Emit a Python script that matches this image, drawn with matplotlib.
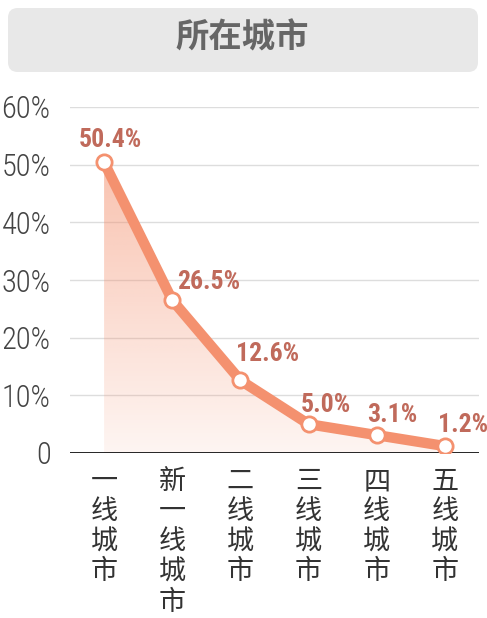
import matplotlib
matplotlib.use("Agg")
import matplotlib.pyplot as plt
import numpy as np
from matplotlib import font_manager as fm
from matplotlib.patches import FancyBboxPatch, Polygon
from matplotlib.colors import to_rgb

categories = ["一线城市", "新一线城市", "二线城市", "三线城市", "四线城市", "五线城市"]
values = [50.4, 26.5, 12.6, 5.0, 3.1, 1.2]
value_labels = ["50.4%", "26.5%", "12.6%", "5.0%", "3.1%", "1.2%"]
yticks = [0, 10, 20, 30, 40, 50, 60]
ytick_labels = ["0", "10%", "20%", "30%", "40%", "50%", "60%"]
title = "所在城市"

names = {f.name for f in fm.fontManager.ttflist}
def pick(cands):
    for c in cands:
        if c in names:
            return c
    return "DejaVu Sans"
num_font = pick(["Roboto Condensed", "Liberation Sans Narrow", "Open Sans", "Roboto"])
cjk = "Noto Sans CJK SC"

LINE = "#F4916F"
LABEL = "#C06A5B"

fig = plt.figure(figsize=(4.87, 6.18), dpi=100)
W, H = 487, 618
ax = fig.add_axes([70 / W, (H - 453) / H, (479 - 70) / W, (453 - 107) / H])

x = np.arange(len(categories))
ax.set_xlim(-0.5, 5.5)
ax.set_ylim(0, 60)

# gradient fill
verts = [(x[0], 0)] + list(zip(x, values)) + [(x[-1], 0)]
poly = Polygon(verts, closed=True, facecolor="none", edgecolor="none")
ax.add_patch(poly)
r, g, b = to_rgb(LINE)
n = 256
alpha = np.linspace(0.09, 0.55, n).reshape(n, 1)
img = np.zeros((n, 1, 4))
img[..., 0], img[..., 1], img[..., 2] = r, g, b
img[..., 3] = alpha
im = ax.imshow(img, extent=[x[0], x[-1], 0, max(values)], origin="lower",
               aspect="auto", zorder=1)
im.set_clip_path(poly)

for yv in yticks[1:]:
    ax.axhline(yv, color="#DDDDDD", lw=1, zorder=0)
ax.axhline(0, color="#111111", lw=2, zorder=3)

ax.plot(x, values, color=LINE, lw=7.5, solid_capstyle="round", zorder=4,
        marker="o", markersize=11, markerfacecolor="white",
        markeredgecolor=LINE, markeredgewidth=2)

# label offsets in pixels (dx, gap above point to baseline)
offsets = [(6, 15), (36, 11), (27, 19), (17, 12), (16, 13), (18, 14)]
for xi, v, lab, (dx, dy) in zip(x, values, value_labels, offsets):
    ax.annotate(lab, (xi, v), xytext=(dx * 0.72, dy * 0.72), textcoords="offset points",
                ha="center", va="baseline", fontsize=18.5, fontweight="semibold",
                color=LABEL, family=[num_font, "DejaVu Sans"], zorder=5,
                annotation_clip=False)

ax.set_yticks(yticks)
ax.set_yticklabels(ytick_labels, family=[num_font, "DejaVu Sans"], fontsize=22,
                   fontweight="light", color="#444444")
ax.tick_params(axis="y", length=0, pad=14)
ax.set_xticks([])
for s in ax.spines.values():
    s.set_visible(False)

for xi, c in zip(x, categories):
    ax.text(xi, -2.6, "\n".join(c), ha="center", va="top", fontsize=19.5,
            family=[cjk, "DejaVu Sans"], fontweight="light", color="#333333",
            linespacing=1.15, transform=ax.transData, clip_on=False)

# title box
box = FancyBboxPatch((8 / W, 1 - 72 / H), (478 - 8) / W, (72 - 8) / H,
                     boxstyle="round,pad=0,rounding_size=0.02",
                     transform=fig.transFigure, facecolor="#E8E8E8",
                     edgecolor="none", mutation_aspect=W / H)
fig.patches.append(box)
fig.text(242 / W, 1 - 38 / H, title, ha="center", va="center", fontsize=24,
         fontweight="bold", color="#666666", family=[cjk, "DejaVu Sans"])

fig.savefig("out.png", dpi=100)
